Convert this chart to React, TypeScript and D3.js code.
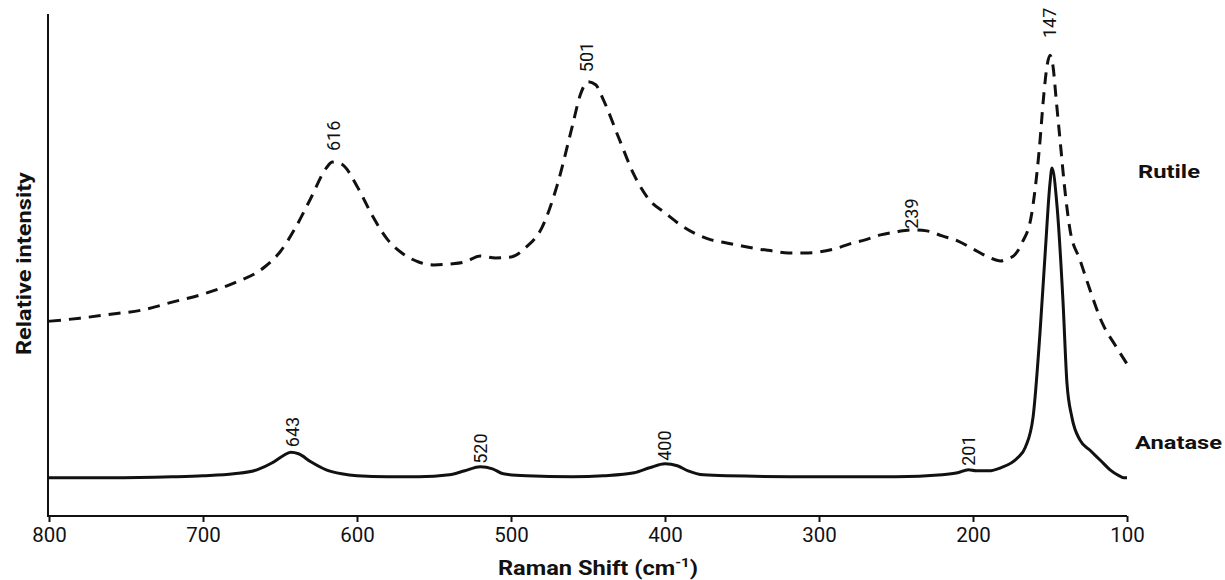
import * as d3 from "d3";
import React, { useEffect, useRef } from "react";

// Raman shift (cm-1) and relative intensity
const rutileShift = [800, 780, 760, 740, 720, 700, 680, 660, 650, 640, 630, 620, 616, 610, 600, 590, 580, 570, 560, 550, 540, 530, 520, 510, 500, 490, 480, 470, 460, 455, 450, 445, 440, 430, 420, 410, 400, 390, 380, 370, 360, 350, 340, 330, 320, 310, 300, 290, 280, 270, 260, 250, 240, 230, 220, 210, 200, 190, 182, 178, 173, 168, 162, 157, 154, 152, 150, 148, 146, 143.5, 140, 137, 130.5, 124, 116, 107, 100];
const rutileIntensity = [38.8, 39.4, 40.2, 41.0, 42.6, 44.2, 46.4, 49.6, 52.6, 57.4, 63.3, 69.3, 70.5, 70.1, 65.7, 59.8, 55.0, 52.2, 50.6, 50.0, 50.2, 50.6, 51.8, 51.4, 51.6, 53.6, 57.4, 65.9, 77.9, 83.9, 86.5, 85.9, 82.9, 75.3, 67.9, 62.9, 60.4, 58.0, 56.2, 55.0, 54.4, 53.8, 53.2, 52.8, 52.4, 52.4, 52.6, 53.2, 54.2, 55.0, 56.0, 56.6, 57.0, 56.8, 55.8, 54.8, 53.2, 51.6, 50.8, 51.2, 52.0, 54.5, 60.0, 72.9, 84.0, 89.5, 91.8, 89.5, 83.0, 75.0, 64.0, 57.0, 51.0, 45.0, 38.4, 33.7, 30.3];

const anataseShift = [800, 760, 720, 700, 680, 665, 655, 648, 643, 638, 630, 620, 610, 600, 580, 560, 540, 530, 520, 512, 505, 490, 460, 440, 420, 410, 400, 392, 385, 375, 360, 300, 250, 220, 210, 203, 198, 190, 182, 171, 166, 161, 156.5, 153, 150, 148.7, 145.5, 141.6, 139, 135.8, 130.5, 124, 117, 111, 105, 102, 100];
const anataseIntensity = [7.6, 7.6, 7.8, 8.0, 8.4, 9.2, 10.6, 12.0, 12.7, 12.4, 10.8, 9.2, 8.4, 8.0, 7.8, 7.8, 8.2, 9.0, 9.8, 9.4, 8.4, 8.0, 7.8, 8.0, 8.6, 9.6, 10.4, 10.0, 9.0, 8.2, 8.0, 7.8, 7.8, 8.2, 8.6, 9.2, 9.0, 9.0, 9.6, 11.6, 13.7, 19.7, 36.5, 53.0, 66.3, 69.3, 62.0, 43.0, 26.5, 19.7, 15.1, 13.1, 11.0, 9.2, 8.0, 7.6, 7.6];

// peak annotations: text, shift where drawn, intensity where text starts
const peakText = ["643", "520", "400", "201", "616", "501", "239", "147"];
const peakShift = [642, 520, 400, 203, 615, 451, 240, 150];
const peakLevel = [13.7, 10.4, 11.0, 10.0, 72.7, 88.4, 57.2, 95.2];

const xTicks = [800, 700, 600, 500, 400, 300, 200, 100];

export default function App() {
  const ref = useRef(null);

  useEffect(() => {
    const svg = d3.select(ref.current);
    svg.selectAll("*").remove();

    const font = "Roboto, 'Noto Sans', sans-serif";
    const x = d3.scaleLinear().domain([800, 100]).range([49, 1127]);
    const y = d3.scaleLinear().domain([0, 100]).range([516, 14]);

    // axes
    const xAxis = svg
      .append("g")
      .attr("transform", "translate(0,516)")
      .call(d3.axisBottom(x).tickValues(xTicks).tickSizeOuter(0).tickSize(6).tickPadding(5));
    xAxis.select(".domain").attr("stroke", "#111").attr("stroke-width", 2).attr("d", "M48,0H1127");
    xAxis.selectAll(".tick line").attr("stroke", "#111").attr("stroke-width", 2);
    xAxis
      .selectAll(".tick text")
      .attr("font-family", font)
      .attr("font-size", 20.5)
      .attr("fill", "#111");

    svg
      .append("line")
      .attr("x1", 48)
      .attr("x2", 48)
      .attr("y1", y(100))
      .attr("y2", y(0) + 1)
      .attr("stroke", "#111")
      .attr("stroke-width", 2);

    const line = d3
      .line<[number, number]>()
      .x((d) => x(d[0]))
      .y((d) => y(d[1]))
      .curve(d3.curveMonotoneX);

    const rutile = rutileShift.map((s, i) => [s, rutileIntensity[i]] as [number, number]);
    const anatase = anataseShift.map((s, i) => [s, anataseIntensity[i]] as [number, number]);

    svg
      .append("path")
      .attr("d", line(rutile))
      .attr("fill", "none")
      .attr("stroke", "#111")
      .attr("stroke-width", 3)
      .attr("stroke-dasharray", "12 8");

    svg
      .append("path")
      .attr("d", line(anatase))
      .attr("fill", "none")
      .attr("stroke", "#111")
      .attr("stroke-width", 3)
      .attr("stroke-linejoin", "round");

    // peak labels
    peakText.forEach((t, i) => {
      svg
        .append("text")
        .attr("transform", `translate(${x(peakShift[i])},${y(peakLevel[i])}) rotate(-90)`)
        .attr("dy", "0.35em")
        .attr("font-family", font)
        .attr("font-size", 18)
        .attr("fill", "#111")
        .text(t);
    });

    // series names
    svg
      .append("text")
      .attr("x", 1138)
      .attr("y", 178)
      .attr("font-family", font)
      .attr("font-weight", "bold")
      .attr("font-size", 19)
      .attr("textLength", 62)
      .attr("lengthAdjust", "spacingAndGlyphs")
      .attr("fill", "#111")
      .text("Rutile");
    svg
      .append("text")
      .attr("x", 1135)
      .attr("y", 449)
      .attr("font-family", font)
      .attr("font-weight", "bold")
      .attr("font-size", 19)
      .attr("textLength", 87)
      .attr("lengthAdjust", "spacingAndGlyphs")
      .attr("fill", "#111")
      .text("Anatase");

    // axis titles
    const xt = svg
      .append("text")
      .attr("x", 498)
      .attr("y", 575)
      .attr("font-family", font)
      .attr("font-weight", "bold")
      .attr("font-size", 20.5)
      .attr("textLength", 200)
      .attr("lengthAdjust", "spacingAndGlyphs")
      .attr("fill", "#111");
    xt.append("tspan").text("Raman Shift (cm");
    xt.append("tspan").attr("font-size", 13).attr("dy", -8).text("-1");
    xt.append("tspan").attr("dy", 8).text(")");

    svg
      .append("text")
      .attr("transform", "translate(31,355) rotate(-90)")
      .attr("font-family", font)
      .attr("font-weight", "bold")
      .attr("font-size", 20.5)
      .attr("textLength", 183)
      .attr("lengthAdjust", "spacingAndGlyphs")
      .attr("fill", "#111")
      .text("Relative intensity");
  }, []);

  return (
    <svg
      ref={ref}
      width={1225}
      height={580}
      style={{ position: "absolute", left: 0, top: 0, background: "#fff" }}
    />
  );
}
